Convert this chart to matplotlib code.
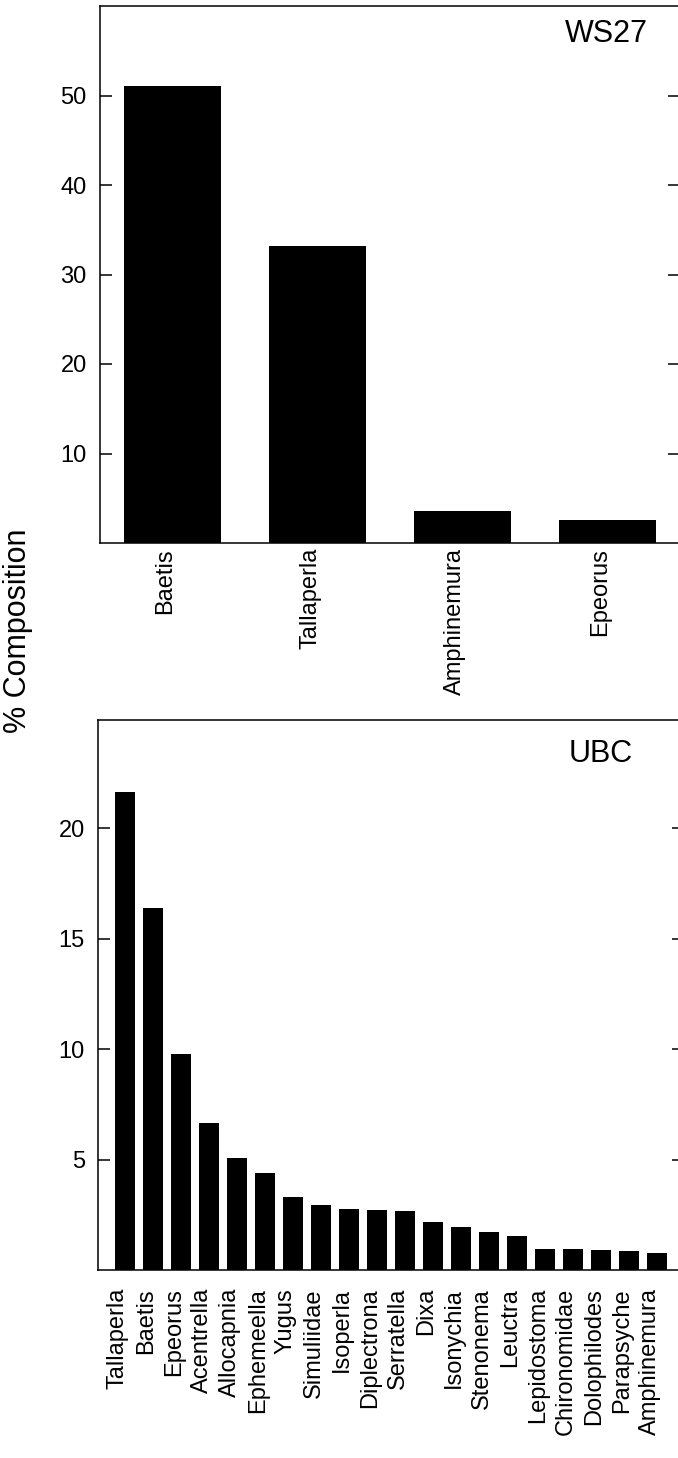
"""Percent composition of taxa at two sites (WS27 and UBC)."""
import numpy as np
from matplotlib import pyplot as plt
from matplotlib import transforms

plt.rcParams['font.family'] = ['Liberation Sans', 'DejaVu Sans']

# WS27 site
ws27_taxa = ['Baetis', 'Tallaperla', 'Amphinemura', 'Epeorus']
ws27_pct = [51.1, 33.2, 3.6, 2.6]

# UBC site
ubc_taxa = ['Tallaperla', 'Baetis', 'Epeorus', 'Acentrella', 'Allocapnia',
            'Ephemeella', 'Yugus', 'Simuliidae', 'Isoperla', 'Diplectrona',
            'Serratella', 'Dixa', 'Isonychia', 'Stenonema', 'Leuctra',
            'Lepidostoma', 'Chironomidae', 'Dolophilodes', 'Parapsyche',
            'Amphinemura']
ubc_pct = [21.66, 16.38, 9.76, 6.64, 5.08, 4.40, 3.31, 2.95, 2.74, 2.71,
           2.66, 2.18, 1.93, 1.73, 1.53, 0.96, 0.94, 0.90, 0.85, 0.76]

ws27_yticks = [10, 20, 30, 40, 50]
ubc_yticks = [5, 10, 15, 20]

W, H = 678, 1458


def px_rect(left, top, right, bottom):
    """Convert a pixel box to a figure-fraction rect."""
    return [left / W, 1 - bottom / H, (right - left) / W, (bottom - top) / H]


def bar_panel(fig, rect, taxa, pct, yticks, ylim, xlim, width, label_pad):
    """Draw one bar panel."""
    ax = fig.add_axes(rect)
    xpos = np.arange(len(taxa))
    ax.bar(xpos, pct, width=width, color='black', edgecolor='black', lw=0)
    ax.set_xlim(*xlim)
    ax.set_ylim(*ylim)
    ax.set_yticks(yticks)
    ax.set_xticks(xpos)
    ax.set_xticklabels(taxa, rotation=90, ha='right', va='top',
                       fontsize=17)
    ax.tick_params(axis='x', length=0, pad=label_pad)
    ax.tick_params(axis='y', direction='in', length=8.5, width=1.1,
                   right=True, labelsize=17, pad=9.5)
    for side in ('left', 'right', 'top', 'bottom'):
        ax.spines[side].set_linewidth(1.1)
    # baseline of rotated labels sits on the bar centre
    shift = transforms.ScaledTranslation(0.04, 0, fig.dpi_scale_trans)
    for lab in ax.get_xticklabels():
        lab.set_transform(lab.get_transform() + shift)
    return ax


fig = plt.figure(figsize=(W / 100, H / 100), dpi=100)

bar_panel(fig, px_rect(100, 6, 679.5, 543), ws27_taxa, ws27_pct,
          ws27_yticks, (0, 60), (-0.5, 3.5), 0.67, 3.6)
bar_panel(fig, px_rect(98, 720, 684, 1270), ubc_taxa, ubc_pct,
          ubc_yticks, (0, 24.9), (-0.95, 19.95), 0.72, 13)

fig.text(648 / W, 1 - 19 / H, 'WS27', ha='right', va='top', fontsize=22)
fig.text(633 / W, 1 - 739 / H, 'UBC', ha='right', va='top', fontsize=22)
fig.text(33.5 / W, 1 - 631 / H, '% Composition', rotation=90,
         ha='right', va='center', fontsize=22)

fig.savefig('out.png', dpi=100)
